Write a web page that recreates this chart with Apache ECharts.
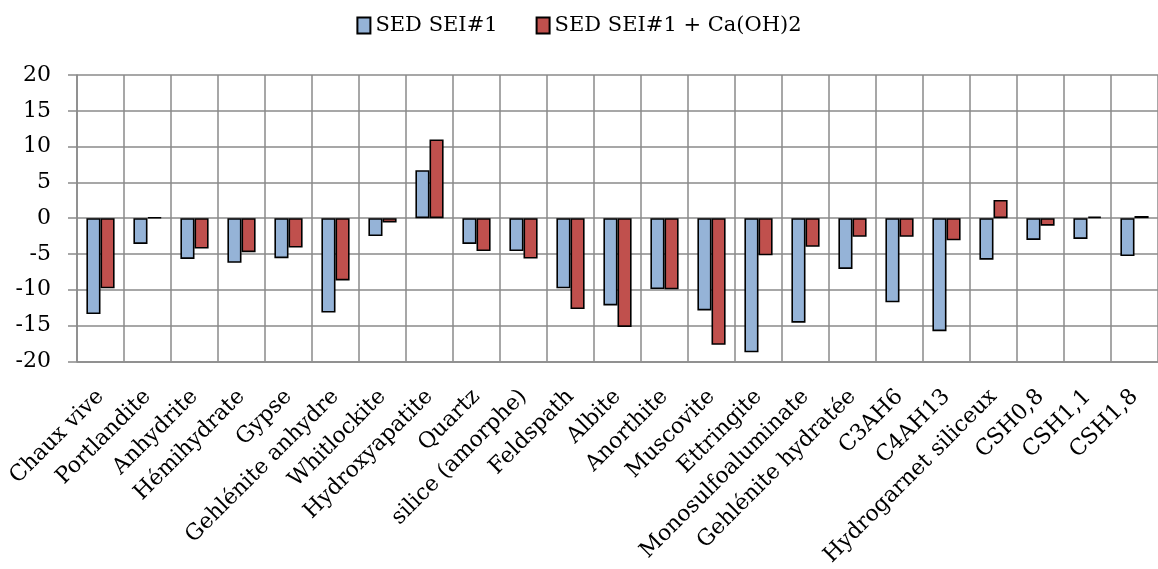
<!DOCTYPE html>
<html><head><meta charset="utf-8">
<script src="https://cdn.jsdelivr.net/npm/echarts@6/dist/echarts.min.js"></script>
<style>html,body{margin:0;padding:0;background:#fff}#c{width:1158px;height:569px}</style>
</head><body><div id="c"></div>
<script>
const categories = ["Chaux vive","Portlandite","Anhydrite","Hémihydrate","Gypse","Gehlénite anhydre","Whitlockite","Hydroxyapatite","Quartz","silice (amorphe)","Feldspath","Albite","Anorthite","Muscovite","Ettringite","Monosulfoaluminate","Gehlénite hydratée","C3AH6","C4AH13","Hydrogarnet siliceux","CSH0,8","CSH1,1","CSH1,8"];
const seriesNames = ["SED SEI#1","SED SEI#1 + Ca(OH)2"];
const sedSei1 = [-13.4,-3.6,-5.7,-6.25,-5.6,-13.2,-2.5,6.7,-3.6,-4.6,-9.8,-12.2,-9.9,-12.9,-18.75,-14.6,-7.1,-11.75,-15.8,-5.8,-3.05,-2.9,-5.3];
const sedSei1CaOH2 = [-9.8,0.1,-4.25,-4.75,-4.1,-8.7,-0.6,11.0,-4.6,-5.65,-12.7,-15.2,-9.95,-17.7,-5.2,-4.0,-2.6,-2.6,-3.1,2.55,-1.05,0.2,0.3];
const yTicks = {min:-20, max:20, interval:5};

const font = "DejaVu Serif";
const grid = '#8a8a8a';
const chart = echarts.init(document.getElementById('c'), null, {renderer:'canvas'});
chart.setOption({
  animation:false,
  legend:{top:10, left:'center', icon:'rect', itemWidth:13, itemHeight:16, itemGap:38,
    textStyle:{fontFamily:font, fontSize:21, color:'#000'}},
  grid:{left:77, right:-3, top:75, bottom:206, containLabel:false},
  xAxis:{type:'category', data:categories, boundaryGap:true,
    axisLine:{onZero:false, lineStyle:{color:grid, width:1.5}},
    axisTick:{show:false},
    splitLine:{show:true, lineStyle:{color:grid, width:1.5}},
    axisLabel:{rotate:45, interval:0, margin:32, fontFamily:font, fontSize:22, color:'#000'}},
  yAxis:{type:'value', min:yTicks.min, max:yTicks.max, interval:yTicks.interval,
    axisLine:{show:true, lineStyle:{color:grid, width:1.5}},
    axisTick:{show:true, length:9, lineStyle:{color:grid, width:1.5}},
    splitLine:{lineStyle:{color:grid, width:1.5}},
    axisLabel:{margin:26, fontFamily:font, fontSize:22, color:'#000'}},
  series:[
    {name:seriesNames[0], type:'bar', data:sedSei1, barGap:'0%', barCategoryGap:'40%',
     itemStyle:{color:'#95B3D7', borderColor:'#000', borderWidth:1.6}},
    {name:seriesNames[1], type:'bar', data:sedSei1CaOH2,
     itemStyle:{color:'#C0504D', borderColor:'#000', borderWidth:1.6}}
  ]
});
</script></body></html>
